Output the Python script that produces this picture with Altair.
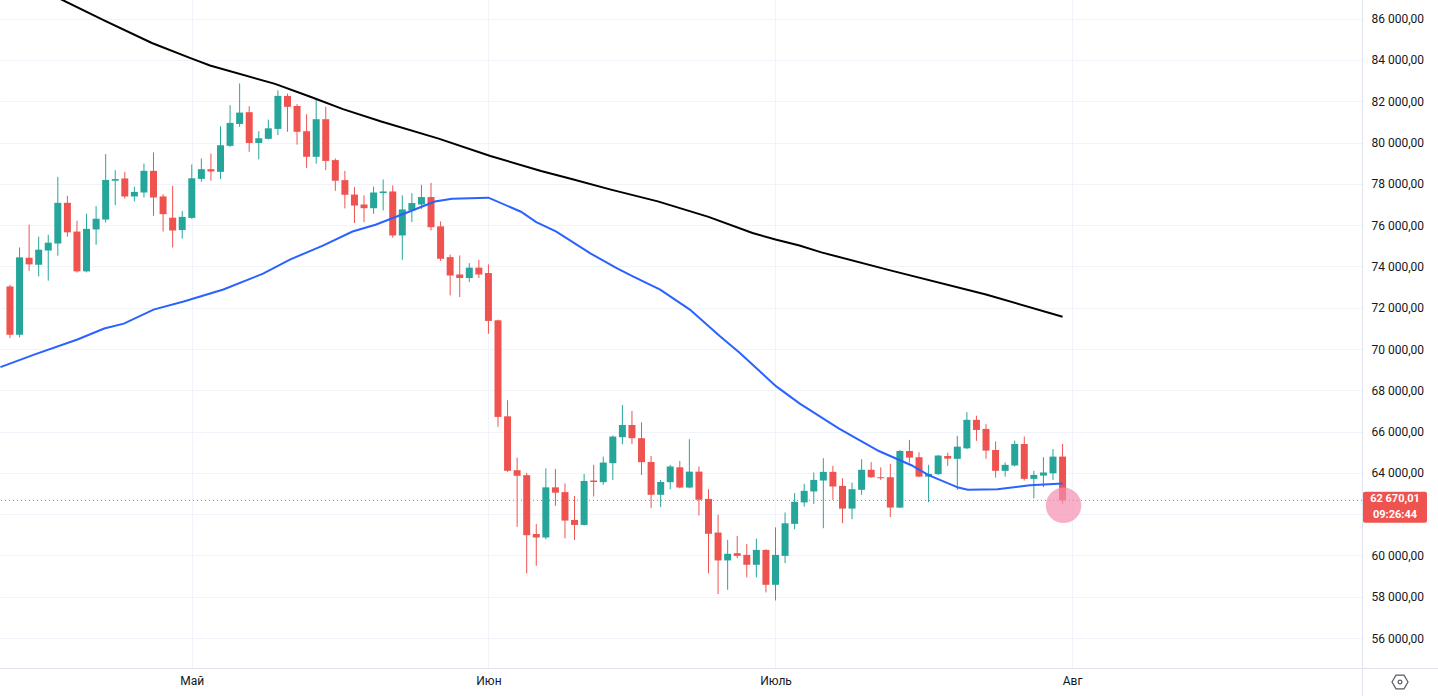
import altair as alt
import pandas as pd

# ---------------- data ----------------
first_day = "2024-04-12"   # date of the first candle (daily candles)

opens = [73030, 70690, 74420, 74080, 74770, 75110, 77080, 75690, 73760, 75790,
         76270, 78150, 78260, 77390, 77580, 78630, 77390, 76360, 75760, 76350,
         78240, 78710, 78580, 79840, 80900, 81470, 79980, 80180, 80660, 82260,
         81770, 80550, 79310, 81130, 79150, 78180, 77480, 77000, 76820, 77550,
         77630, 75500, 76710, 77000, 77360, 75940, 74450, 73610, 73440, 73940,
         73680, 71390, 66740, 64130, 63890, 61040, 60870, 63300, 63070, 61720,
         61480, 63630, 63550, 64470, 65730, 66320, 65680, 64530, 62940, 63550,
         64270, 63290, 64060, 62740, 61110, 59760, 60110, 60030, 59550, 60270,
         58580, 59980, 61530, 62570, 63100, 63630, 64050, 63370, 62270, 63180,
         64150, 63790, 63790, 62320, 65060, 64760, 63820, 63940, 64820, 64680,
         65190, 66570, 66130, 65110, 64100, 64360, 65400, 63710, 63870, 63980,
         64790]
highs = [73110, 74920, 76020, 75440, 75530, 78340, 77420, 76210, 76550, 76920,
         79440, 78660, 78580, 77860, 78980, 79520, 77500, 77900, 76680, 78940,
         79230, 79470, 80790, 81810, 82860, 81760, 80550, 81110, 82530, 82370,
         81860, 81370, 82130, 81730, 79230, 78630, 77840, 77440, 77870, 78210,
         77920, 77440, 77550, 77950, 78050, 76180, 74580, 74530, 74160, 74320,
         74100, 71420, 67520, 64740, 64000, 61520, 64220, 64190, 63490, 62880,
         63950, 64390, 64790, 65810, 67290, 67000, 66450, 64820, 63660, 64390,
         64580, 65630, 64310, 63210, 61970, 60760, 60950, 60560, 60820, 60300,
         61360, 62080, 63020, 63470, 64020, 64710, 64340, 63740, 63530, 64660,
         64520, 64270, 64440, 65110, 65600, 65000, 64390, 64870, 64980, 65790,
         66940, 66770, 66360, 65520, 64500, 65560, 65760, 64100, 64760, 65160,
         65400]
lows = [70530, 70560, 73790, 73520, 73310, 74520, 75440, 73700, 73710, 75050,
        76130, 76970, 77290, 77150, 77340, 76450, 75690, 74920, 75350, 76300,
        78100, 78150, 78230, 79790, 80760, 79550, 79190, 80150, 80360, 80520,
        79900, 78770, 78980, 78660, 77660, 76810, 76100, 76150, 76550, 76710,
        75390, 74320, 76150, 76790, 75740, 74260, 72600, 72520, 73240, 73440,
        70740, 66230, 64050, 61390, 59130, 59500, 60780, 62400, 60830, 60750,
        61450, 62860, 63420, 63660, 65390, 65390, 63900, 62290, 62340, 63210,
        63250, 63250, 61940, 59140, 58130, 58340, 59870, 58940, 58940, 58210,
        57820, 59630, 61270, 62370, 62500, 61320, 62690, 61560, 61760, 62940,
        63760, 63660, 61860, 62290, 64500, 63790, 62580, 63900, 64340, 63180,
        65150, 65550, 64680, 63770, 63820, 64310, 63630, 62770, 63310, 63660,
        62500]
closes = [70690, 74440, 74100, 74810, 75150, 77080, 75650, 73760, 75820, 76310,
          78190, 78230, 77390, 77610, 78630, 77340, 76530, 75740, 76400, 78270,
          78710, 78600, 79870, 80950, 81450, 79980, 80210, 80690, 82260, 81730,
          80520, 79310, 81130, 79110, 78150, 77470, 76950, 76820, 77580, 77630,
          75500, 76760, 77070, 77360, 75900, 74370, 73560, 73440, 73940, 73610,
          71360, 66710, 64100, 63860, 60980, 60870, 63300, 63040, 61690, 61480,
          63610, 63560, 64500, 65760, 66320, 65680, 64520, 62940, 63560, 64310,
          63290, 64060, 62700, 61050, 59760, 60080, 59980, 59550, 60270, 58580,
          60030, 61560, 62600, 63130, 63660, 64050, 63340, 62270, 63210, 64150,
          63790, 63740, 62320, 65060, 64740, 63820, 63950, 64840, 64690, 65270,
          66570, 66080, 65080, 64100, 64390, 65400, 63710, 63900, 64020, 64790,
          62670.01]

# short moving average (blue), sampled along the line: day offset, price
blue_days = [-1, 2.6, 7.05, 9.85, 11.9, 15.0, 18.15, 22.3, 26.45, 29.25, 32.7,
             35.8, 38.2, 41.7, 44.4, 46.2, 50.0, 53.4, 55.0, 57.05, 60.7, 63.45,
             65.2, 67.95, 71.05, 74.2, 76.25, 80.05, 82.5, 86.6, 90.8, 94.2, 96.0,
             99.1, 100.1, 103.2, 106.6, 110.0]
blue_vals = [69120, 69740, 70460, 70990, 71230, 71910, 72300, 72880, 73650, 74330,
             75010, 75690, 76020, 76650, 77140, 77280, 77330, 76650, 76150, 75700,
             74620, 73900, 73490, 72880, 71910, 70620, 69820, 68200, 67370, 66160,
             65060, 64370, 63890, 63290, 63180, 63210, 63400, 63490]

# long moving average (black)
black_days = [-1, 5.55, 9.83, 14.83, 18.8, 20.9, 27.7, 31.6, 34.8, 38.8, 44.8,
              50.2, 55.5, 58.7, 62.8, 67.7, 73.0, 77.6, 80.0, 82.5, 84.8, 92.0,
              102.0, 110.0]
black_vals = [88380, 86890, 85920, 84820, 84100, 83730, 82840, 82180, 81620, 81020,
              80190, 79350, 78620, 78230, 77720, 77150, 76400, 75620, 75300, 75010,
              74680, 73810, 72640, 71560]

month_starts = ["2024-05-01", "2024-06-01", "2024-07-01", "2024-08-01"]
month_labels = ["Май", "Июн", "Июль", "Авг"]
y_ticks = list(range(56000, 86001, 2000))
hidden_tick = 62000          # its label sits under the last-price badge
last_price = 62670.01
countdown = "09:26:44"

# ---------------- styling ----------------
GREEN = "#26a69a"
RED = "#ef5350"
BLUE = "#2962ff"
TEXT = "#131722"
GRID = "#f0f3fa"
BORDER = "#e0e3eb"
FONT = "Roboto"

start = pd.Timestamp(first_day)
n = len(opens)
candles = pd.DataFrame({
    "d": list(range(n)),
    "open": opens, "high": highs, "low": lows, "close": closes,
})
candles["dir"] = ["up" if c >= o else "down" for o, c in zip(opens, closes)]

tick_days = [(pd.Timestamp(m) - start).days for m in month_starts]
x_label_expr = "".join(
    f"datum.value == {d} ? '{l}' : " for d, l in zip(tick_days, month_labels)
) + "''"

xscale = alt.Scale(domain=[-0.52, 140.77], nice=False, zero=False)
yscale = alt.Scale(domain=[54550, 86904], nice=False, zero=False)

xaxis = alt.Axis(values=tick_days, labelExpr=x_label_expr, title=None,
                 grid=True, gridColor=GRID, gridWidth=1, ticks=False,
                 domain=True, domainColor=BORDER, labelPadding=7,
                 labelFont=FONT, labelFontSize=12, labelColor=TEXT)
yaxis = alt.Axis(values=y_ticks, orient="right", title=None,
                 labelExpr=f"datum.value == {hidden_tick} ? '' : "
                           "format(datum.value / 1000, 'd') + ' 000,00'",
                 grid=True, gridColor=GRID, gridWidth=1, ticks=False,
                 domain=True, domainColor=BORDER, labelPadding=9,
                 labelFont=FONT, labelFontSize=12, labelColor=TEXT,
                 labelAlign="left")

X = alt.X("d:Q", scale=xscale, axis=xaxis)
color = alt.Color("dir:N", scale=alt.Scale(domain=["up", "down"], range=[GREEN, RED]),
                  legend=None)

base = alt.Chart(candles)
wicks = base.mark_rule(strokeWidth=1).encode(
    x=X, y=alt.Y("low:Q", scale=yscale, axis=yaxis), y2="high:Q", color=color)
bodies = base.mark_bar(size=7).encode(
    x=X, y=alt.Y("open:Q", scale=yscale, axis=yaxis), y2="close:Q", color=color)

blue_df = pd.DataFrame({"d": blue_days, "v": blue_vals})
black_df = pd.DataFrame({"d": black_days, "v": black_vals})
blue_line = alt.Chart(blue_df).mark_line(color=BLUE, strokeWidth=2, clip=True).encode(
    x=X, y=alt.Y("v:Q", scale=yscale, axis=yaxis))
black_line = alt.Chart(black_df).mark_line(color="#000000", strokeWidth=2, clip=True).encode(
    x=X, y=alt.Y("v:Q", scale=yscale, axis=yaxis))

last_df = pd.DataFrame({"d": [n - 1], "p": [last_price],
                        "label": [f"{last_price:,.2f}".replace(",", " ").replace(".", ",")],
                        "cd": [countdown]})
price_line = alt.Chart(last_df).mark_rule(color=RED, strokeDash=[1, 3], strokeWidth=1).encode(
    y=alt.Y("p:Q", scale=yscale, axis=yaxis))
pulse = alt.Chart(last_df).mark_circle(size=1260, color="#f48fb1", opacity=0.7,
                                       yOffset=5, xOffset=1).encode(
    x=X, y=alt.Y("p:Q", scale=yscale, axis=yaxis))

price_box = alt.Chart(last_df).mark_rect(color=RED, clip=False, yOffset=-8.5, y2Offset=22.5,
                                         cornerRadius=2).encode(
    x=alt.value(1363), x2=alt.value(1427),
    y=alt.Y("p:Q", scale=yscale, axis=yaxis), y2="p:Q")
price_txt = alt.Chart(last_df).mark_text(color="white", font=FONT, fontSize=11, fontWeight="bold",
                                         align="center", baseline="middle", dy=-1).encode(
    x=alt.value(1395), y=alt.Y("p:Q", scale=yscale, axis=yaxis), text="label:N")
cd_txt = alt.Chart(last_df).mark_text(color="white", font=FONT, fontSize=11, fontWeight="bold",
                                      align="center", baseline="middle", dy=15).encode(
    x=alt.value(1395), y=alt.Y("p:Q", scale=yscale, axis=yaxis), text="cd:N")

frame_df = pd.DataFrame({"k": [0]})
sep_right = alt.Chart(frame_df).mark_rule(color=BORDER, strokeWidth=1).encode(
    x=alt.value(1362), x2=alt.value(1438), y=alt.value(668.5))
axis_down = alt.Chart(frame_df).mark_rule(color=BORDER, strokeWidth=1).encode(
    x=alt.value(1362.5), y=alt.value(668), y2=alt.value(696))
eye_hex = alt.Chart(frame_df).mark_point(
    shape="M-1,0L-0.5,-0.85L0.5,-0.85L1,0L0.5,0.85L-0.5,0.85Z",
    size=256, filled=False, color=TEXT, strokeWidth=1.2).encode(
    x=alt.value(1400), y=alt.value(682))
eye_dot = alt.Chart(frame_df).mark_point(shape="circle", size=14, filled=False,
                                         color=TEXT, strokeWidth=1.2).encode(
    x=alt.value(1400), y=alt.value(682))

chart = alt.layer(
    price_line, wicks, bodies, blue_line, black_line, pulse,
    price_box, price_txt, cd_txt, sep_right, axis_down, eye_hex, eye_dot
).properties(
    width=1362, height=668,
    autosize=alt.AutoSizeParams(type="none"),
    padding={"left": 0, "top": 0, "right": 76, "bottom": 28},
    background="white",
).configure_view(stroke=None)

chart.save("out.html", embed_options={"renderer": "svg", "actions": False})
